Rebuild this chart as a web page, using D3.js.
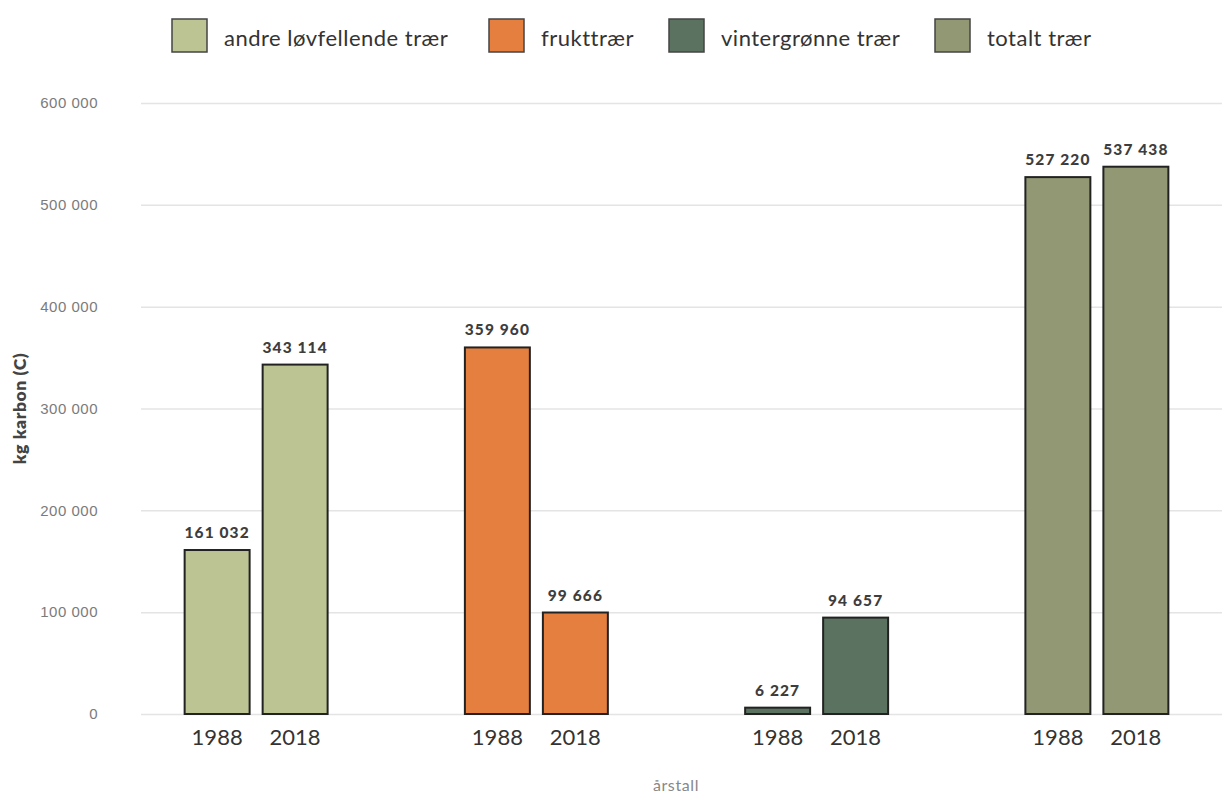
<!DOCTYPE html>
<html>
<head>
<meta charset="utf-8">
<script src="https://cdn.jsdelivr.net/npm/d3@7"></script>
<style>
  html, body { margin: 0; padding: 0; background: #fff; }
  svg { display: block; font-family: Lato, "Open Sans", sans-serif; }
</style>
</head>
<body>
<svg id="chart" width="1226" height="795"></svg>
<script>
// Carbon stored in trees (kg C), 1988 vs 2018
const categories = ["andre løvfellende trær", "frukttrær", "vintergrønne trær", "totalt trær"];
const years = ["1988", "2018"];
const values1988 = [161032, 359960, 6227, 527220];
const values2018 = [343114, 99666, 94657, 537438];
const colors = ["#bcc494", "#e57f3f", "#5b7260", "#929874"];
const yTicks = [0, 100000, 200000, 300000, 400000, 500000, 600000];

const W = 1226, H = 795;
const plot = { left: 141, right: 1222, top: 103, bottom: 714 };

const svg = d3.select("#chart");
const fmt = d3.formatLocale({ decimal: ",", thousands: " ", grouping: [3], currency: ["", ""] }).format(",d");

const y = d3.scaleLinear().domain([0, 600000]).range([plot.bottom, plot.top]);
const xGroup = d3.scaleBand().domain(categories).range([116, 1237]).paddingInner(0).paddingOuter(0);
const xYear = d3.scaleBand().domain(years).range([-78, 78]).paddingInner(0.167).paddingOuter(0.0835);

// gridlines + y tick labels
const yAxis = d3.axisLeft(y).tickValues(yTicks).tickFormat(fmt)
  .tickSize(-(plot.right - plot.left)).tickPadding(43);
const gy = svg.append("g").attr("transform", `translate(${plot.left},0)`).call(yAxis);
gy.select(".domain").remove();
gy.selectAll(".tick line").attr("stroke", "#e4e4e4").attr("stroke-width", 1.5);
gy.selectAll(".tick text").attr("fill", "#7b7b7b")
  .style("font-size", "15px").style("letter-spacing", "0.5px");

// y title
svg.append("text")
  .attr("transform", `translate(26,${(plot.top + plot.bottom) / 2}) rotate(-90)`)
  .attr("text-anchor", "middle")
  .attr("fill", "#444").style("font-size", "17.5px").style("font-weight", "800")
  .style("letter-spacing", "0.6px")
  .text("kg karbon (C)");

// x title
svg.append("text")
  .attr("x", 676).attr("y", 791)
  .attr("text-anchor", "middle")
  .attr("fill", "#888").style("font-size", "16px").style("letter-spacing", "0.6px")
  .text("årstall");

// bars
const rows = categories.map((c, i) => ({
  cat: c, color: colors[i],
  vals: [{ year: years[0], v: values1988[i] }, { year: years[1], v: values2018[i] }]
}));

const groups = svg.selectAll("g.grp").data(rows).join("g")
  .attr("class", "grp")
  .attr("transform", d => `translate(${xGroup(d.cat) + xGroup.bandwidth() / 2},0)`);

groups.selectAll("rect").data(d => d.vals.map(v => ({ ...v, color: d.color }))).join("rect")
  .attr("x", d => xYear(d.year))
  .attr("width", xYear.bandwidth())
  .attr("y", d => y(d.v))
  .attr("height", d => y(0) - y(d.v))
  .attr("fill", d => d.color)
  .attr("stroke", "#222")
  .attr("stroke-width", 2);

groups.selectAll("text.val").data(d => d.vals).join("text")
  .attr("class", "val")
  .attr("x", d => xYear(d.year) + xYear.bandwidth() / 2)
  .attr("y", d => y(d.v) - 12)
  .attr("text-anchor", "middle")
  .attr("fill", "#3d3d3d").style("font-size", "15.5px").style("font-weight", "900")
  .style("letter-spacing", "1.1px")
  .text(d => fmt(d.v));

groups.selectAll("text.yr").data(d => d.vals).join("text")
  .attr("class", "yr")
  .attr("x", d => xYear(d.year) + xYear.bandwidth() / 2)
  .attr("y", 745)
  .attr("text-anchor", "middle")
  .attr("fill", "#333").style("font-size", "22px")
  .text(d => d.year);

// legend
const legendX = [172, 489, 669, 935];
const lg = svg.selectAll("g.lg").data(categories).join("g")
  .attr("class", "lg")
  .attr("transform", (d, i) => `translate(${legendX[i]},19)`);
lg.append("rect")
  .attr("width", 35).attr("height", 33)
  .attr("fill", (d, i) => colors[i])
  .attr("stroke", "#444").attr("stroke-width", 1.5);
lg.append("text")
  .attr("x", 52).attr("y", 27)
  .attr("fill", "#333").style("font-size", "22px").style("letter-spacing", "0.5px")
  .text(d => d);
</script>
</body>
</html>
